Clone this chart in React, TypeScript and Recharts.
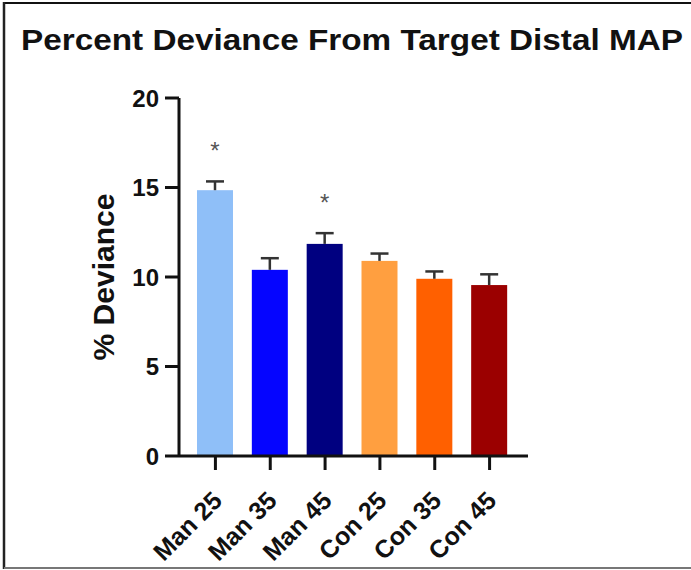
import { BarChart, Bar, XAxis, YAxis, Cell, Label } from "recharts";

const CATEGORIES = ["Man 25", "Man 35", "Man 45", "Con 25", "Con 35", "Con 45"];
const MEANS = [14.85, 10.4, 11.85, 10.9, 9.9, 9.55];
const SEM = [0.49, 0.65, 0.6, 0.41, 0.41, 0.6];
const MARKS = ["*", "", "*", "", "", ""];
const COLORS = ["#8fbff8", "#0505ff", "#000080", "#ff9f40", "#ff6000", "#9b0000"];
const Y_TICKS = [0, 5, 10, 15, 20];

const data = CATEGORIES.map((name, i) => ({
  name,
  value: MEANS[i],
  err: SEM[i],
  mark: MARKS[i],
}));

const FONT = "'Liberation Sans', Arial, sans-serif";

// bar + upward-only error bar + significance mark
function BarWithError(props: any) {
  const { x, y, width, height, fill, payload } = props;
  const perUnit = height / payload.value;
  const capY = y - payload.err * perUnit;
  const cx = x + width / 2;
  return (
    <g>
      <rect x={x} y={y} width={width} height={height} fill={fill} />
      <line x1={cx} x2={cx} y1={y} y2={capY} stroke="#333" strokeWidth={2.5} />
      <line x1={cx - 9} x2={cx + 9} y1={capY} y2={capY} stroke="#333" strokeWidth={2.5} />
      {payload.mark && (
        <text x={cx} y={capY - 22} textAnchor="middle" fontSize={24} fill="#555" fontFamily={FONT}>
          {payload.mark}
        </text>
      )}
    </g>
  );
}

function AngledTick(props: any) {
  const { x, y, payload } = props;
  return (
    <g transform={`translate(${x + 2},${y + 24})`}>
      <text
        x={0}
        y={0}
        dy="0.35em"
        textAnchor="end"
        transform="rotate(-45)"
        fontSize={25}
        fontWeight="bold"
        fill="#111"
        fontFamily={FONT}
      >
        {payload.value}
      </text>
    </g>
  );
}

export default function App() {
  return (
    <div style={{ position: "absolute", left: 0, top: 0, width: 691, height: 570, background: "#fff" }}>
      <svg width={691} height={570} style={{ position: "absolute", left: 0, top: 0 }}>
        <line x1={4} x2={691} y1={3} y2={3} stroke="#111" strokeWidth={2} />
        <line x1={4} x2={4} y1={2} y2={569} stroke="#222" strokeWidth={2.5} />
        <line x1={4} x2={691} y1={568} y2={568} stroke="#777" strokeWidth={2} />
        <text
          x={352}
          y={50}
          textAnchor="middle"
          fontSize={29}
          fontWeight="bold"
          fill="#111"
          fontFamily={FONT}
          textLength={662}
          lengthAdjust="spacingAndGlyphs"
        >
          Percent Deviance From Target Distal MAP
        </text>
      </svg>
      <div style={{ position: "absolute", left: 0, top: 0 }}>
        <BarChart
          width={691}
          height={570}
          data={data}
          margin={{ top: 98, right: 163, bottom: 84, left: 0 }}
          barSize={36}
        >
          <XAxis
            dataKey="name"
            height={30}
            interval={0}
            padding={{ left: 9, right: 11 }}
            axisLine={{ stroke: "#111", strokeWidth: 3 }}
            tickLine={{ stroke: "#111", strokeWidth: 3 }}
            tickSize={14}
            tick={<AngledTick />}
          />
          <YAxis
            width={179}
            domain={[0, 20]}
            ticks={Y_TICKS}
            interval={0}
            axisLine={{ stroke: "#111", strokeWidth: 3 }}
            tickLine={{ stroke: "#111", strokeWidth: 3 }}
            tickSize={14}
            tickMargin={6}
            tick={{ fontSize: 24, fontWeight: "bold", fill: "#111", fontFamily: FONT }}
          >
            <Label
              content={() => (
                <text
                  x={103}
                  y={277}
                  transform="rotate(-90, 103, 277)"
                  textAnchor="middle"
                  dominantBaseline="central"
                  fontSize={30}
                  fontWeight="bold"
                  fill="#111"
                  fontFamily={FONT}
                >
                  % Deviance
                </text>
              )}
            />
          </YAxis>
          <Bar dataKey="value" isAnimationActive={false} shape={<BarWithError />}>
            {data.map((d, i) => (
              <Cell key={d.name} fill={COLORS[i]} />
            ))}
          </Bar>
        </BarChart>
      </div>
    </div>
  );
}
